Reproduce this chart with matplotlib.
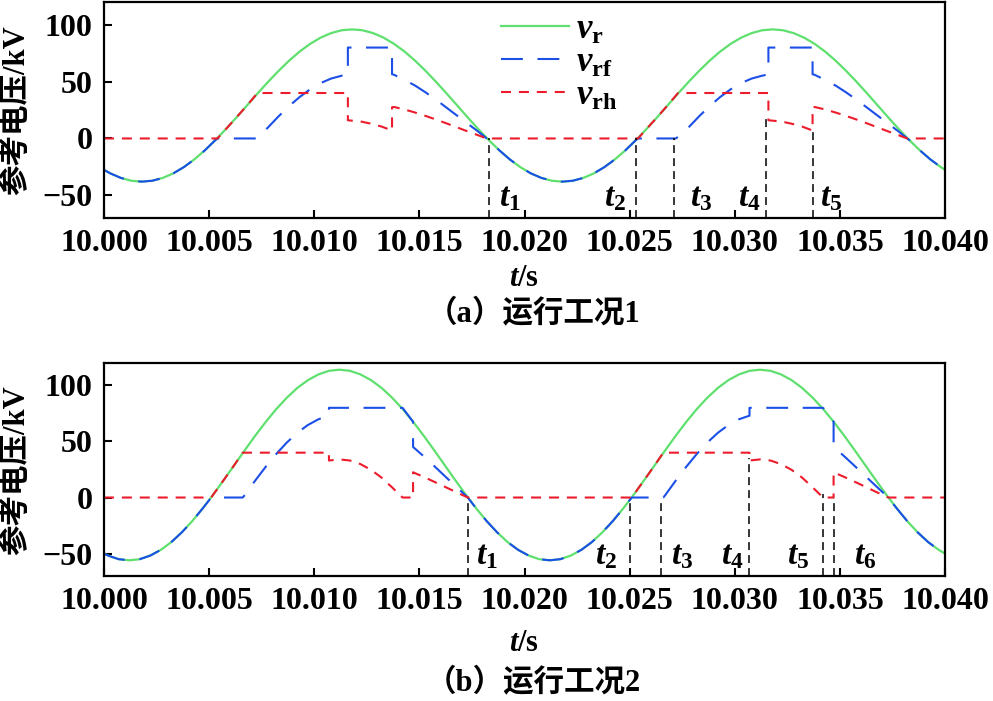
import numpy as np
import matplotlib
matplotlib.use('Agg')
import matplotlib.pyplot as plt
from matplotlib.ticker import FormatStrFormatter

plt.rcParams['font.family'] = ['Liberation Serif', 'Noto Sans CJK SC']
plt.rcParams['font.weight'] = 'bold'
plt.rcParams['mathtext.fontset'] = 'custom'
plt.rcParams['mathtext.rm'] = 'Liberation Serif:bold'
plt.rcParams['mathtext.it'] = 'Liberation Serif:italic:bold'
plt.rcParams['mathtext.bf'] = 'Liberation Serif:bold'

GREEN = '#5fe06e'
BLUE = '#1b4fe8'
RED = '#ec1c2c'

# ---------- (a) operating case 1 ----------
t_r_a = np.concatenate(([10.0], np.arange(10.0003, 10.03985, 0.0005), [10.04]))
v_r_a = [-27.6,
         -30.7, -34.7, -37.2, -38.0, -37.2, -34.7, -30.7, -25.2, -18.4, -10.4, -1.4, 8.3,
         18.5, 29.0, 39.5, 49.7, 59.4, 68.4, 76.4, 83.2, 88.7, 92.7, 95.2,
         96.0,
         95.2, 92.7, 88.7, 83.2, 76.4, 68.4, 59.4, 49.7, 39.5, 29.0, 18.5, 8.3,
         -1.4, -10.4, -18.4, -25.2, -30.7, -34.7, -37.2, -38.0,
         -37.2, -34.7, -30.7, -25.2, -18.4, -10.4, -1.4, 8.3, 18.5, 29.0,
         39.5, 49.7, 59.4, 68.4, 76.4, 83.2, 88.7, 92.7, 95.2,
         96.0,
         95.2, 92.7, 88.7, 83.2, 76.4, 68.4, 59.4, 49.7, 39.5, 29.0, 18.5, 8.3,
         -1.4, -10.4, -18.4, -25.2,
         -27.6]

t_rf_a = [10.0000, 10.0003, 10.0008, 10.0013, 10.0018, 10.0023, 10.0028, 10.0033, 10.0038,
          10.0043, 10.0048, 10.0053, 10.0054, 10.0073, 10.0078, 10.0083, 10.0088, 10.0093,
          10.0098, 10.0103, 10.0108, 10.0113, 10.0116, 10.0116, 10.0137, 10.0137, 10.0138,
          10.0143, 10.0148, 10.0153, 10.0158, 10.0163, 10.0168, 10.0173, 10.0178, 10.0182,
          10.0183, 10.0188, 10.0193, 10.0198, 10.0203, 10.0208, 10.0213, 10.0218, 10.0223,
          10.0228, 10.0233, 10.0238, 10.0243, 10.0248, 10.0253, 10.0254, 10.0272, 10.0278,
          10.0283, 10.0288, 10.0293, 10.0298, 10.0303, 10.0308, 10.0313, 10.0316, 10.0316,
          10.0337, 10.0337, 10.0338, 10.0343, 10.0348, 10.0353, 10.0358, 10.0363, 10.0368,
          10.0373, 10.0378, 10.0382, 10.0383, 10.0388, 10.0393, 10.0398, 10.0400]
v_rf_a = [-27.6, -30.7, -34.7, -37.2, -38.0, -37.2, -34.7, -30.7, -25.2,
          -18.4, -10.4, -1.4, 0, 0, 9.7, 19.4, 28.4, 36.4,
          43.2, 48.7, 52.7, 55.2, 55.8, 80, 80, 56.5, 56.0,
          51.5, 46.5, 40.5, 34.0, 27.0, 20.0, 13.0, 6.0, 0,
          -1.4, -10.4, -18.4, -25.2, -30.7, -34.7, -37.2, -38.0, -37.2,
          -34.7, -30.7, -25.2, -18.4, -10.4, -1.4, 0, 0, 9.7,
          19.4, 28.4, 36.4, 43.2, 48.7, 52.7, 55.2, 56.5, 80,
          80, 56.5, 56.0, 51.5, 46.5, 40.5, 34.0, 27.0, 20.0,
          13.0, 6.0, 0, -1.4, -10.4, -18.4, -25.2, -27.6]

t_rh_a = [10.0000, 10.0054, 10.0058, 10.0063, 10.0068, 10.0073, 10.0116, 10.0116, 10.0122,
          10.0127, 10.0132, 10.0137, 10.0137, 10.0138, 10.0143, 10.0148, 10.0153, 10.0158,
          10.0163, 10.0168, 10.0173, 10.0178, 10.0182, 10.0254, 10.0258, 10.0263, 10.0268,
          10.0273, 10.0316, 10.0316, 10.0322, 10.0327, 10.0332, 10.0337, 10.0337, 10.0338,
          10.0343, 10.0348, 10.0353, 10.0358, 10.0363, 10.0368, 10.0373, 10.0378, 10.0382,
          10.0400]
v_rh_a = [0, 0, 8.3, 18.5, 29.0, 40, 40, 16, 15,
          13, 10.5, 7, 27.5, 27.7, 25.5, 22.8, 19.8, 16.6,
          13.2, 9.7, 6.2, 2.8, 0, 0, 8.3, 18.5, 29.0,
          40, 40, 16, 15, 13, 10.5, 7, 27.5, 27.7,
          25.5, 22.8, 19.8, 16.6, 13.2, 9.7, 6.2, 2.8, 0,
          0]

mark_t_a = [10.0183, 10.0253, 10.0271, 10.0315, 10.0337]
mark_top_a = [0, 0, 0, 17, 6]
lab_t_a = [10.0193, 10.0243, 10.0284, 10.0307, 10.0346]
lab_a = ['$t_1$', '$t_2$', '$t_3$', '$t_4$', '$t_5$']

# ---------- (b) operating case 2 ----------
t_r_b = np.concatenate(([10.0], np.arange(10.0002, 10.03975, 0.0005), [10.04]))
v_r_b = [-50.0,
         -51.8, -55.0, -56.0, -55.0, -51.8, -46.7, -39.8, -31.1, -21.0, -9.6, 2.7,
         15.7, 29.0, 42.3, 55.3, 67.6, 79.0, 89.1, 97.8, 104.7, 109.8, 113.0,
         114.0,
         113.0, 109.8, 104.7, 97.8, 89.1, 79.0, 67.6, 55.3, 42.3, 29.0, 15.7, 2.7,
         -9.6, -21.0, -31.1, -39.8, -46.7, -51.8, -55.0, -56.0,
         -55.0, -51.8, -46.7, -39.8, -31.1, -21.0, -9.6, 2.7, 15.7, 29.0,
         42.3, 55.3, 67.6, 79.0, 89.1, 97.8, 104.7, 109.8, 113.0,
         114.0,
         113.0, 109.8, 104.7, 97.8, 89.1, 79.0, 67.6, 55.3, 42.3, 29.0, 15.7, 2.7,
         -9.6, -21.0, -31.1, -39.8, -46.7,
         -50.0]

t_rf_b = [10.0000, 10.0002, 10.0007, 10.0012, 10.0017, 10.0022, 10.0027, 10.0032, 10.0037,
          10.0042, 10.0047, 10.0051, 10.0066, 10.0067, 10.0072, 10.0077, 10.0082, 10.0087,
          10.0092, 10.0097, 10.0102, 10.0107, 10.0107, 10.0142, 10.0147, 10.0147, 10.0152,
          10.0157, 10.0162, 10.0167, 10.0172, 10.0173, 10.0177, 10.0182, 10.0187, 10.0192,
          10.0197, 10.0202, 10.0207, 10.0212, 10.0217, 10.0222, 10.0227, 10.0232, 10.0237,
          10.0242, 10.0247, 10.0251, 10.0266, 10.0267, 10.0272, 10.0277, 10.0282, 10.0287,
          10.0292, 10.0297, 10.0302, 10.0307, 10.0307, 10.0342, 10.0347, 10.0347, 10.0352,
          10.0357, 10.0362, 10.0367, 10.0372, 10.0373, 10.0377, 10.0382, 10.0387, 10.0392,
          10.0397, 10.0400]
v_rf_b = [-50.0, -51.8, -55.0, -56.0, -55.0, -51.8, -46.7, -39.8, -31.1,
          -21.0, -9.6, 0, 0, 2.3, 15.3, 27.6, 39.0, 49.1,
          57.8, 64.7, 69.8, 73.0, 80, 80, 67.6, 45.1, 36.9,
          28.2, 19.3, 10.5, 1.8, 0, -9.6, -21.0, -31.1, -39.8,
          -46.7, -51.8, -55.0, -56.0, -55.0, -51.8, -46.7, -39.8, -31.1,
          -21.0, -9.6, 0, 0, 2.3, 15.3, 27.6, 39.0, 49.1,
          57.8, 64.7, 69.8, 73.0, 80, 80, 67.6, 45.1, 36.9,
          28.2, 19.3, 10.5, 1.8, 0, -9.6, -21.0, -31.1, -39.8,
          -46.7, -50.0]

t_rh_b = [10.0000, 10.0051, 10.0052, 10.0057, 10.0062, 10.0066, 10.0107, 10.0107, 10.0112,
          10.0117, 10.0122, 10.0127, 10.0132, 10.0137, 10.0142, 10.0147, 10.0147, 10.0152,
          10.0157, 10.0162, 10.0167, 10.0172, 10.0173, 10.0251, 10.0252, 10.0257, 10.0262,
          10.0266, 10.0307, 10.0307, 10.0312, 10.0317, 10.0322, 10.0327, 10.0332, 10.0337,
          10.0342, 10.0347, 10.0347, 10.0352, 10.0357, 10.0362, 10.0367, 10.0372, 10.0373,
          10.0400]
v_rh_b = [0, 0, 2.7, 15.7, 29.0, 40, 40, 33.0, 34.0,
          33.0, 29.8, 24.7, 17.8, 9.1, 0, 0, 22.5, 18.4,
          14.1, 9.7, 5.2, 0.9, 0, 0, 2.7, 15.7, 29.0,
          40, 40, 33.0, 34.0, 33.0, 29.8, 24.7, 17.8, 9.1,
          0, 0, 22.5, 18.4, 14.1, 9.7, 5.2, 0.9, 0,
          0]

mark_t_b = [10.0173, 10.0250, 10.0265, 10.0307, 10.0342, 10.0347]
mark_top_b = [0, 0, 0, 35, 3, 0]
lab_t_b = [10.0182, 10.0239, 10.0275, 10.0299, 10.0330, 10.0362]
lab_b = ['$t_1$', '$t_2$', '$t_3$', '$t_4$', '$t_5$', '$t_6$']

x_ticks = [10.000, 10.005, 10.010, 10.015, 10.020, 10.025, 10.030, 10.035, 10.040]
y_ticks = [-50, 0, 50, 100]


def draw_panel(ax, t_r, v_r, t_f, v_f, t_h, v_h, mark_t, mark_top, lab_t, labs):
    ax.plot(t_r, v_r, color=GREEN, lw=1.6, label=r'$v_{\mathrm{r}}$')
    ax.plot(t_f, v_f, color=BLUE, lw=1.5, ls=(0, (10.5, 7)), label=r'$v_{\mathrm{rf}}$')
    ax.plot(t_h, v_h, color=RED, lw=1.5, ls=(0, (4.8, 3.8)), label=r'$v_{\mathrm{rh}}$')
    ax.vlines(mark_t, -70, mark_top, colors='black', lw=1.1, linestyles=(0, (5.2, 3.3)))
    for x, s in zip(lab_t, labs):
        ax.text(x, -52, s, ha='center', va='center', fontsize=24)
    ax.set_xlim(10.0, 10.04)
    ax.set_ylim(-70, 120)
    ax.set_xticks(x_ticks)
    ax.set_yticks(y_ticks)
    ax.xaxis.set_major_formatter(FormatStrFormatter('%.3f'))
    ax.tick_params(direction='in', length=6, width=1.5, labelsize=23, pad=8,
                   top=False, right=False)
    for sp in ax.spines.values():
        sp.set_linewidth(1.6)


fig = plt.figure(figsize=(9.93, 7.01), dpi=100)
ax1 = fig.add_axes([0.1047, 0.689, 0.847, 0.308])
ax2 = fig.add_axes([0.1047, 0.1783, 0.847, 0.3039])

draw_panel(ax1, t_r_a, v_r_a, t_rf_a, v_rf_a, t_rh_a, v_rh_a, mark_t_a, mark_top_a, lab_t_a, lab_a)
draw_panel(ax2, t_r_b, v_r_b, t_rf_b, v_rf_b, t_rh_b, v_rh_b, mark_t_b, mark_top_b, lab_t_b, lab_b)

ax1.legend(loc='upper left', bbox_to_anchor=(0.443, 1.06), frameon=False, fontsize=25,
           handlelength=1.95, handletextpad=0.2, labelspacing=0.0, borderpad=0.2)

fig.text(0.017, 0.843, '参考电压/kV', rotation=90, ha='center', va='center', fontsize=22)
fig.text(0.017, 0.330, '参考电压/kV', rotation=90, ha='center', va='center', fontsize=22)
fig.text(0.528, 0.6034, '$t$/s', ha='center', va='center', fontsize=22)
fig.text(0.528, 0.0827, '$t$/s', ha='center', va='center', fontsize=22)
fig.text(0.537, 0.5535, '（a）运行工况1', ha='center', va='center', fontsize=22)
fig.text(0.537, 0.027, '（b）运行工况2', ha='center', va='center', fontsize=22)

fig.savefig('out.png', dpi=100)
